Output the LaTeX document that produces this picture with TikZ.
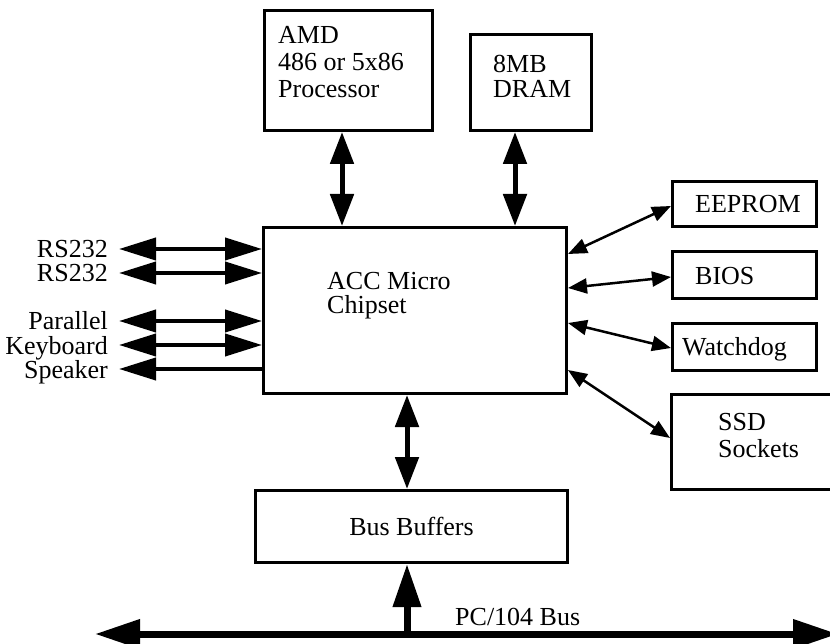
\documentclass[tikz,border=0pt]{standalone}
\usepackage{fontspec}
\setmainfont{Liberation Serif}
\usetikzlibrary{positioning, arrows.meta, calc}

\tikzset{
  blk/.style={draw, line width=3pt, anchor=north west, inner sep=0pt},
  txt/.style={font=\fontsize{26}{27}\selectfont, align=left, inner sep=0pt, anchor=north west},
  sidelbl/.style={font=\fontsize{26}{27}\selectfont, anchor=east, inner xsep=11pt, inner ysep=0pt, text height=18pt, text depth=0pt},
  fatarr/.style={line width=5pt, {Triangle[length=32pt,width=23pt]}-{Triangle[length=32pt,width=23pt]}},
  sidearr/.style={line width=4pt, {Triangle[length=37pt,width=22pt]}-{Triangle[length=37pt,width=22pt]}},
  spkarr/.style={line width=4pt, {Triangle[length=37pt,width=22pt]}-},
  thinarr/.style={line width=2.5pt, {Triangle[length=19pt,width=15pt]}-{Triangle[length=19pt,width=15pt]}},
  busarr/.style={line width=7pt, {Triangle[length=45pt,width=28pt]}-{Triangle[length=45pt,width=28pt]}},
  upbus/.style={line width=7pt, -{Triangle[length=43pt,width=27pt]}},
}

\begin{document}
\begin{tikzpicture}[x=1pt, y=-1pt]
\useasboundingbox (0,0) rectangle (830,644);

% Processor and DRAM
\node[blk, minimum width=168pt, minimum height=120pt] (cpu) at (263,9) {};
\node[txt] (cputxt) at ($(cpu.north west)+(15,17)$) {AMD\\486 or 5x86\\Processor};

\node[blk, minimum width=121pt, minimum height=96pt] (dram) at (469,33) {};
\node[txt, font=\fontsize{26}{25}\selectfont] (dramtxt) at ($(dram.north west)+(24,22)$) {8MB\\DRAM};

% Chipset
\node[blk, minimum width=303pt, minimum height=166pt] (chip) at (262,226) {};
\node[txt, font=\fontsize{26}{24}\selectfont] (chiptxt) at ($(chip.north west)+(65,46)$) {ACC Micro\\Chipset};

% right hand boxes
\node[blk, minimum width=144pt, minimum height=45pt] (eeprom) at (671,180) {};
\node[txt] (eepromtxt) at ($(eeprom.north west)+(24,15)$) {EEPROM};

\node[blk, minimum width=144pt, minimum height=47pt] (bios) at (671,250) {};
\node[txt] (biostxt) at ($(bios.north west)+(24,17)$) {BIOS};

\node[blk, minimum width=144pt, minimum height=47pt] (wdog) at (671,322) {};
\node[txt] (wdogtxt) at ($(wdog.north west)+(11,15)$) {Watchdog};

\node[blk, minimum width=180pt, minimum height=95pt] (ssd) at (670,393) {};
\node[txt] (ssdtxt) at ($(ssd.north west)+(48,20)$) {SSD\\Sockets};

% Bus buffers
\node[blk, minimum width=312pt, minimum height=72pt, font=\fontsize{26}{27}\selectfont] (buf) at (254,489) {Bus Buffers};

% left side signals
\node[sidelbl] (rs1) at (119,249) {RS232};
\node[sidelbl] (rs2) at (119,273) {RS232};
\node[sidelbl] (par) at (119,321) {Parallel};
\node[sidelbl] (kbd) at (119,345) {Keyboard};
\node[sidelbl] (spk) at (119,369) {Speaker};

\draw[sidearr] (rs1.east) -- (rs1.east -| chip.west);
\draw[sidearr] (rs2.east) -- (rs2.east -| chip.west);
\draw[sidearr] (par.east) -- (par.east -| chip.west);
\draw[sidearr] (kbd.east) -- (kbd.east -| chip.west);
\draw[spkarr] (spk.east) -- (spk.east -| chip.west);

% fat arrows
\draw[fatarr] ($(cpu.south west)+(79,0)$) coordinate (c1) -- (c1 |- chip.north);
\draw[fatarr] ($(dram.south west)+(46,0)$) coordinate (c2) -- (c2 |- chip.north);
\draw[fatarr] ($(chip.south west)+(145,0)$) coordinate (c3) -- (c3 |- buf.north);

% thin arrows to the right
\draw[thinarr] ($(chip.north east)+(0,28)$) -- ($(eeprom.south west)+(0,-22)$);
\draw[thinarr] ($(chip.north east)+(0,62)$) -- ($(bios.south west)+(0,-23)$);
\draw[thinarr] ($(chip.north east)+(0,97)$) -- ($(wdog.south west)+(0,-24)$);
\draw[thinarr] ($(chip.north east)+(0,144)$) -- ($(ssd.north west)+(0,45)$);

% PC/104 bus
\coordinate (busL) at (95,634);
\coordinate (busR) at (838,634);
\draw[busarr] (busL) -- (busR);
\coordinate (c4) at ($(buf.south west)+(153,0)$);
\draw[upbus] (c4 |- busL) -- (c4);
\node[txt, anchor=base west] (buslbl) at (455,625) {PC/104 Bus};

\end{tikzpicture}
\end{document}
